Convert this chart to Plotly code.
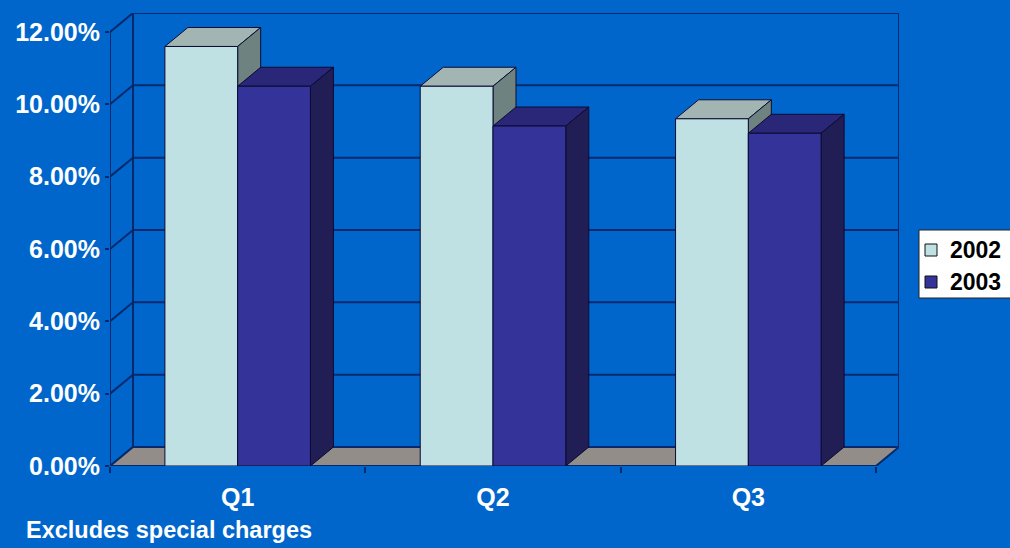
import plotly.graph_objects as go

# ---- data -------------------------------------------------------------
quarters = ["Q1", "Q2", "Q3"]
years = ["2002", "2003"]
margin_2002 = [11.6, 10.5, 9.6]
margin_2003 = [10.5, 9.4, 9.2]
y_ticks = [0, 2, 4, 6, 8, 10, 12]
footnote = "Excludes special charges"

# ---- geometry of the pseudo-3D box ---------------------------------------
W, H = 1010, 548
L, R, T, B = 110, 111, 13, 82
DX_PX, DY_PX = 23, 19          # depth offset of walls, floor and bars (px)
plot_w = W - L - R
plot_h = H - T - B
n_cat = len(quarters)
x0, x1 = -0.5, n_cat - 0.5
y_max = max(y_ticks)
x_ppu = (plot_w - DX_PX) / n_cat
y_ppu = (plot_h - DY_PX) / y_max
dx = DX_PX / x_ppu
dy = DY_PX / y_ppu
BARGAP = 0.43
half = (1 - BARGAP) / 2

BG = "#0066cc"
GRID = "#06296b"
EDGE = "#0b0b33"
FONT = "Liberation Sans, Arial, sans-serif"

front_colors = {"2002": "#bfe1e4", "2003": "#343399"}
top_colors = {"2002": "#a2b5b3", "2003": "#2a2678"}
side_colors = {"2002": "#6e8280", "2003": "#201e55"}


def poly(pts, fill, color=EDGE, width=1):
    path = "M " + " L ".join(f"{px},{py}" for px, py in pts) + " Z"
    return dict(type="path", path=path, xref="x", yref="y", layer="below",
                fillcolor=fill, line=dict(color=color, width=width))


def seg(xa, ya, xb, yb, color=GRID, width=2):
    return dict(type="line", x0=xa, y0=ya, x1=xb, y1=yb, xref="x", yref="y",
                layer="below", line=dict(color=color, width=width))


def px_x(p):
    """figure pixel column -> paper x"""
    return (p - L) / plot_w


def px_y(p):
    """figure pixel row -> paper y"""
    return (H - B - p) / plot_h


shapes = []
# back wall and left wall grid
for v in y_ticks:
    shapes.append(seg(x0 + dx, v + dy, x1 + dx, v + dy))
    shapes.append(seg(x0, v, x0 + dx, v + dy))
shapes.append(seg(x0, 0, x0, y_max))
shapes.append(seg(x0 + dx, dy, x0 + dx, y_max + dy))
shapes.append(seg(x1 + dx, dy, x1 + dx, y_max + dy))

# floor
shapes.append(poly([(x0, 0), (x1, 0), (x1 + dx, dy), (x0 + dx, dy)],
                   "#928d88", GRID, 2))

# top and side faces of every column
for i in range(n_cat):
    for year, vals, left in (("2002", margin_2002, i - half),
                             ("2003", margin_2003, i)):
        v = vals[i]
        right = left + half
        shapes.append(poly([(left, v), (right, v), (right + dx, v + dy),
                            (left + dx, v + dy)], top_colors[year]))
        shapes.append(poly([(right, 0), (right, v), (right + dx, v + dy),
                            (right + dx, dy)], side_colors[year]))

# legend box (open towards the right edge of the page)
annotations = []
shapes.append(dict(type="rect", xref="paper", yref="paper",
                   x0=px_x(919), x1=px_x(1015), y0=px_y(298), y1=px_y(230),
                   fillcolor="white", line=dict(color="#222222", width=1),
                   layer="above"))
for k, year in enumerate(years):
    cy = 250 + 32 * k
    shapes.append(dict(type="rect", xref="paper", yref="paper",
                       x0=px_x(925), x1=px_x(937), y0=px_y(cy + 6), y1=px_y(cy - 6),
                       fillcolor=front_colors[year],
                       line=dict(color="#111111", width=1), layer="above"))
    annotations.append(dict(
        text=year, xref="paper", yref="paper", x=px_x(948), y=px_y(cy),
        xanchor="left", yanchor="middle", showarrow=False,
        font=dict(size=23, color="black", family=FONT, weight="bold"),
    ))

annotations.append(dict(
    text=footnote, xref="paper", yref="paper",
    x=px_x(24), y=px_y(530),
    xanchor="left", yanchor="middle", showarrow=False,
    font=dict(size=23.5, color="white", family=FONT, weight="bold"),
))

fig = go.Figure()
for year, vals in zip(years, (margin_2002, margin_2003)):
    fig.add_trace(go.Bar(
        x=list(range(n_cat)), y=vals, name=year, showlegend=False,
        marker=dict(color=front_colors[year], line=dict(color=EDGE, width=1)),
        hoverinfo="skip",
    ))

fig.update_layout(
    width=W, height=H,
    margin=dict(l=L, r=R, t=T, b=B, pad=0, autoexpand=False),
    paper_bgcolor=BG, plot_bgcolor=BG,
    barmode="group", bargap=BARGAP, bargroupgap=0,
    shapes=shapes, annotations=annotations, showlegend=False,
    font=dict(family=FONT, color="white"),
    xaxis=dict(
        range=[x0, x1 + dx], tickmode="array", tickvals=list(range(n_cat)),
        ticktext=quarters, showgrid=False, zeroline=False, showline=False,
        ticks="", ticklabelstandoff=14,
        tickfont=dict(size=25, color="white", family=FONT, weight="bold"),
        minor=dict(tickmode="array", tickvals=[k + 0.5 for k in range(-1, n_cat)],
                   ticks="outside", ticklen=6, tickcolor=GRID, tickwidth=2,
                   showgrid=False),
    ),
    yaxis=dict(
        range=[0, y_max + dy], tickmode="array", tickvals=y_ticks,
        ticktext=[f"{v:.2f}%" for v in y_ticks],
        showgrid=False, zeroline=False, showline=False,
        ticks="outside", ticklen=4, tickcolor=GRID, tickwidth=2,
        tickfont=dict(size=25, color="white", family=FONT, weight="bold"),
    ),
)

fig.write_html("out.html")
